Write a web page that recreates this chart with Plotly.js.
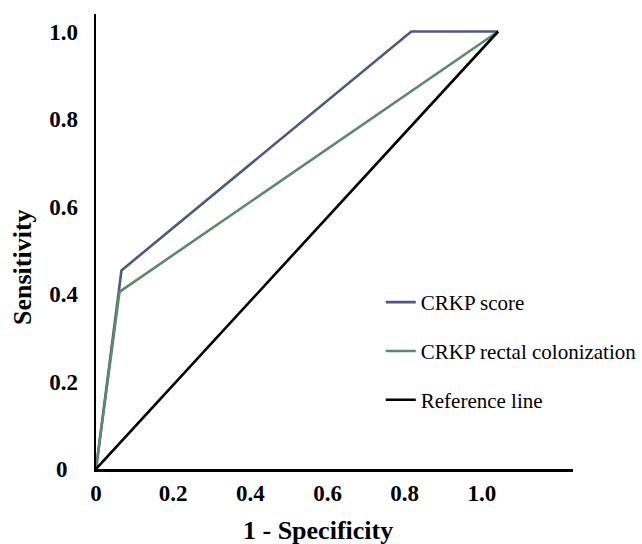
<!DOCTYPE html>
<html>
<head>
<meta charset="utf-8">
<script src="https://cdn.plot.ly/plotly-3.0.1.min.js"></script>
<style>html,body{margin:0;padding:0;background:#fff;}#chart{width:642px;height:544px;}</style>
</head>
<body>
<div id="chart"></div>
<script>
// Values (x = 1 - Specificity, y = Sensitivity)
const scoreX = [0, 0.066, 0.817, 1.042];
const scoreY = [0, 0.454, 1.0, 1.0];
const rectalX = [0, 0.061, 1.042];
const rectalY = [0, 0.405, 1.0];
const refX = [0, 1.042];
const refY = [0, 1.0];
const seriesNames = ['CRKP score', 'CRKP rectal colonization', 'Reference line'];
const xTickVals = [0, 0.2, 0.4, 0.6, 0.8, 1.0];
const xTickText = ['0', '0.2', '0.4', '0.6', '0.8', '1.0'];
const yTickVals = [0, 0.2, 0.4, 0.6, 0.8, 1.0];
const yTickText = ['0\u00a0\u2009', '0.2', '0.4', '0.6', '0.8', '1.0'];
const xTitle = '1 - Specificity';
const yTitle = 'Sensitivity';

const serif = '"Liberation Serif", "Times New Roman", Times, serif';
const traces = [
  {x: scoreX, y: scoreY, name: seriesNames[0], mode: 'lines', legendgroup: 'a',
   line: {color: '#4e5a80', width: 2.6}},
  {x: rectalX, y: rectalY, name: seriesNames[1], mode: 'lines', legendgroup: 'b',
   line: {color: '#5e8a6c', width: 2.6}},
  {x: refX, y: refY, name: seriesNames[2], mode: 'lines', legendgroup: 'c',
   line: {color: '#000000', width: 2.6}}
];
const layout = {
  width: 642, height: 544,
  margin: {l: 96, r: 69, t: 14, b: 75, autoexpand: false},
  paper_bgcolor: '#fff', plot_bgcolor: '#fff',
  font: {family: serif, color: '#000'},
  showlegend: true,
  legend: {x: 0.597, xanchor: 'left', y: 0.411, yanchor: 'top',
           font: {family: serif, size: 21, color: '#000'},
           traceorder: 'grouped', tracegroupgap: 18.5, bgcolor: 'rgba(0,0,0,0)'},
  xaxis: {range: [0, 1.236], showgrid: false, zeroline: false,
          showline: true, linecolor: '#000', linewidth: 2.5,
          tickvals: xTickVals, ticktext: xTickText, ticks: '',
          ticklabelstandoff: 2, automargin: false,
          tickfont: {family: serif, size: 23, color: '#000', weight: 'bold'}},
  yaxis: {range: [0, 1.04], showgrid: false, zeroline: false,
          showline: true, linecolor: '#000', linewidth: 2.5,
          tickvals: yTickVals, ticktext: yTickText, ticks: '',
          ticklabelstandoff: 11, automargin: false,
          tickfont: {family: serif, size: 23, color: '#000', weight: 'bold'}},
  annotations: [
    {text: '<b>' + xTitle + '</b>', xref: 'paper', yref: 'paper',
     x: 0.4654, y: 0, xanchor: 'center', yanchor: 'top', yshift: -45,
     showarrow: false, font: {family: serif, size: 26, color: '#000'}},
    {text: '<b>' + yTitle + '</b>', xref: 'paper', yref: 'paper', textangle: -90,
     x: 0, y: 0.444, xanchor: 'center', yanchor: 'middle', xshift: -73,
     showarrow: false, font: {family: serif, size: 26, color: '#000'}}
  ]
};
Plotly.newPlot('chart', traces, layout, {displayModeBar: false, staticPlot: true});
</script>
</body>
</html>
